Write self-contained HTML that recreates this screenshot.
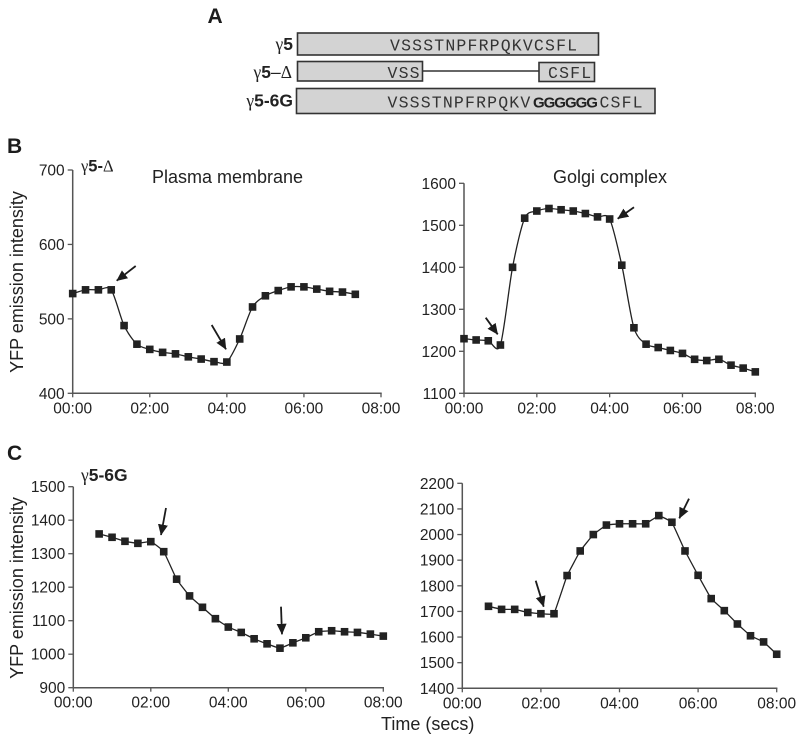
<!DOCTYPE html>
<html lang="en">
<head>
<meta charset="utf-8">
<title>YFP emission intensity over time</title>
<style>
html,body{margin:0;padding:0;background:#fff}
svg{display:block;font-family:"Liberation Sans",sans-serif}
.letter{font-size:21px;font-weight:bold;fill:#1c1c1c}
.box{fill:#d3d3d3;stroke:#333;stroke-width:1.6}
.seq{font-family:"Liberation Mono",monospace;font-size:16.5px;letter-spacing:1.17px;fill:#333}
.seq tspan.g{font-family:"Liberation Sans",sans-serif;font-weight:bold;font-size:15px;fill:#222;letter-spacing:-1px}
.rowlabel{font-size:17.5px;font-weight:bold;fill:#222;text-anchor:end}
.gamma{font-family:"Liberation Serif",serif;font-weight:normal}
.tick{font-size:15.5px;fill:#222}
.title{font-size:18px;fill:#222}
.ytitle{font-size:18px;fill:#222;text-anchor:middle}
.arrow{stroke:#1c1c1c;stroke-width:1.8;fill:none;marker-end:url(#arrowhead)}
</style>
</head>
<body>
<svg id="figure" xmlns="http://www.w3.org/2000/svg" width="800" height="740" viewBox="0 0 800 740">
<defs>
<marker id="arrowhead" markerUnits="userSpaceOnUse" markerWidth="12" markerHeight="12" refX="10.5" refY="5" orient="auto">
<path d="M0,0 L11,5 L0,10 Z" fill="#1c1c1c"></path>
</marker>
</defs>
<rect width="800" height="740" fill="#fff"></rect>

<text class="letter" x="207.5" y="23">A</text>
<text class="letter" x="7" y="153">B</text>
<text class="letter" x="7" y="460">C</text>

<g>
<text class="rowlabel" x="293" y="50"><tspan class="gamma">γ</tspan>5</text>
<rect class="box" x="297.5" y="33" width="301" height="22"></rect>
<text class="seq" x="390" y="50.5">VSSSTNPFRPQKVCSFL</text>

<text class="rowlabel" x="292" y="78"><tspan class="gamma">γ</tspan>5<tspan font-weight="normal">–</tspan><tspan class="gamma">Δ</tspan></text>
<line x1="422" y1="71" x2="539" y2="71" stroke="#333" stroke-width="1.6"></line>
<rect class="box" x="297.5" y="61.5" width="125" height="19.5"></rect>
<rect class="box" x="539" y="62.5" width="55.5" height="19"></rect>
<text class="seq" x="387.5" y="78">VSS</text>
<text class="seq" x="548" y="78">CSFL</text>

<text class="rowlabel" x="293" y="106.5"><tspan class="gamma">γ</tspan>5-6G</text>
<rect class="box" x="296.5" y="88.5" width="358.5" height="25"></rect>
<text class="seq" x="387.5" y="107.5">VSSSTNPFRPQKV<tspan class="g" dx="1.5">GGGGGG</tspan><tspan dx="2.5">CSFL</tspan></text>
</g>

<text class="title" x="152" y="183">Plasma membrane</text>
<text class="title" x="553" y="183">Golgi complex</text>
<text x="81" y="171.5" font-size="16.5" font-weight="bold" fill="#222"><tspan class="gamma">γ</tspan>5-<tspan class="gamma">Δ</tspan></text>
<text x="81" y="481" font-size="17.5" font-weight="bold" fill="#222"><tspan class="gamma">γ</tspan>5-6G</text>
<text class="ytitle" transform="translate(23,282) rotate(-90)">YFP emission intensity</text>
<text class="ytitle" transform="translate(23,588) rotate(-90)">YFP emission intensity</text>
<text class="title" x="381" y="730">Time (secs)</text>

<g id="charts"></g>

<g>
<line class="arrow" x1="135.7" y1="266" x2="116.7" y2="280.7"></line>
<line class="arrow" x1="211.7" y1="325" x2="226" y2="349.3"></line>
<line class="arrow" x1="485.7" y1="317.7" x2="497.7" y2="334.3"></line>
<line class="arrow" x1="634" y1="207.3" x2="617.7" y2="218.7"></line>
<line class="arrow" x1="166" y1="508" x2="161" y2="535"></line>
<line class="arrow" x1="281" y1="606.7" x2="282" y2="634.3"></line>
<line class="arrow" x1="535.7" y1="580.7" x2="543.7" y2="606.7"></line>
<line class="arrow" x1="689" y1="498.7" x2="679.3" y2="518.3"></line>
</g>
</svg>
<script>
var xTickLabels = ["00:00", "02:00", "04:00", "06:00", "08:00"];
var xTickSeconds = [0, 120, 240, 360, 480];

var plasmaDeltaTimes = [0, 20, 40, 60, 80, 100, 120, 140, 160, 180, 200, 220, 240, 260, 280, 300, 320, 340, 360, 380, 400, 420, 440];
var plasmaDeltaValues = [534, 539, 539, 539, 491, 466, 459, 455, 453, 449, 446, 442.5, 442, 473, 516, 531, 538, 543, 543, 540, 537, 536, 533];
var plasmaDeltaTicks = [400, 500, 600, 700];

var golgiDeltaTimes = [0, 20, 40, 60, 80, 100, 120, 140, 160, 180, 200, 220, 240, 260, 280, 300, 320, 340, 360, 380, 400, 420, 440, 460, 480];
var golgiDeltaValues = [1230, 1227, 1225, 1215, 1400, 1517, 1534, 1540, 1537, 1534, 1528, 1520, 1515, 1405, 1256, 1217, 1209, 1202, 1195, 1181, 1178, 1181, 1167, 1160, 1151];
var golgiDeltaTicks = [1100, 1200, 1300, 1400, 1500, 1600];

var plasma6gTimes = [40, 60, 80, 100, 120, 140, 160, 180, 200, 220, 240, 260, 280, 300, 320, 340, 360, 380, 400, 420, 440, 460, 480];
var plasma6gValues = [1359, 1349, 1337, 1331, 1336, 1306, 1224, 1174, 1140, 1106, 1081, 1065, 1046, 1031, 1018, 1034, 1049, 1067, 1070, 1067, 1065, 1060, 1054];
var plasma6gTicks = [900, 1000, 1100, 1200, 1300, 1400, 1500];

var golgi6gTimes = [40, 60, 80, 100, 120, 140, 160, 180, 200, 220, 240, 260, 280, 300, 320, 340, 360, 380, 400, 420, 440, 460, 480];
var golgi6gValues = [1720, 1708, 1708, 1696, 1691, 1691, 1840, 1936, 2000, 2037, 2042, 2042, 2042, 2074, 2048, 1936, 1841, 1750, 1703, 1651, 1605, 1581, 1533];
var golgi6gTicks = [1400, 1500, 1600, 1700, 1800, 1900, 2000, 2100, 2200];

var NS = "http://www.w3.org/2000/svg";
var chartsRoot = document.getElementById("charts");

function svgEl(tag, parent) {
  var el = document.createElementNS(NS, tag);
  parent.appendChild(el);
  return el;
}

function linePath(points, smooth) {
  var d = "M" + points[0][0].toFixed(2) + "," + points[0][1].toFixed(2);
  for (var i = 0; i < points.length - 1; i++) {
    var p0 = points[Math.max(i - 1, 0)];
    var p1 = points[i];
    var p2 = points[i + 1];
    var p3 = points[Math.min(i + 2, points.length - 1)];
    var c1x = p1[0] + (p2[0] - p0[0]) * smooth;
    var c1y = p1[1] + (p2[1] - p0[1]) * smooth;
    var c2x = p2[0] - (p3[0] - p1[0]) * smooth;
    var c2y = p2[1] - (p3[1] - p1[1]) * smooth;
    d += " C" + c1x.toFixed(2) + "," + c1y.toFixed(2) + " " + c2x.toFixed(2) + "," + c2y.toFixed(2) + " " + p2[0].toFixed(2) + "," + p2[1].toFixed(2);
  }
  return d;
}

function drawChart(id, left, right, top, bottom, times, values, yTicks, smooth) {
  var yMin = yTicks[0];
  var yMax = yTicks[yTicks.length - 1];
  var xMax = xTickSeconds[xTickSeconds.length - 1];
  function xScale(t) { return left + (t / xMax) * (right - left); }
  function yScale(v) { return bottom - ((v - yMin) / (yMax - yMin)) * (bottom - top); }

  var g = svgEl("g", chartsRoot);
  
  

  var yAxis = svgEl("line", g);
  
  
  yAxis.setAttribute("x1", left); yAxis.setAttribute("x2", left);
  yAxis.setAttribute("y1", top); yAxis.setAttribute("y2", bottom);
  yAxis.setAttribute("stroke", "#555"); yAxis.setAttribute("stroke-width", "1.5");

  var xAxis = svgEl("line", g);
  
  
  xAxis.setAttribute("x1", left - 0.7); xAxis.setAttribute("x2", right + 0.7);
  xAxis.setAttribute("y1", bottom); xAxis.setAttribute("y2", bottom);
  xAxis.setAttribute("stroke", "#555"); xAxis.setAttribute("stroke-width", "1.5");

  yTicks.forEach(function (v) {
    var tick = svgEl("line", g);
    
    
    tick.setAttribute("x1", left - 5); tick.setAttribute("x2", left);
    tick.setAttribute("y1", yScale(v)); tick.setAttribute("y2", yScale(v));
    tick.setAttribute("stroke", "#555"); tick.setAttribute("stroke-width", "1.3");
    var label = svgEl("text", g);
    
    
    label.setAttribute("class", "tick");
    label.setAttribute("x", left - 8);
    label.setAttribute("y", yScale(v) + 5.5);
    label.setAttribute("text-anchor", "end");
    label.textContent = String(v);
  });

  xTickSeconds.forEach(function (t, i) {
    var tick = svgEl("line", g);
    
    
    tick.setAttribute("x1", xScale(t)); tick.setAttribute("x2", xScale(t));
    tick.setAttribute("y1", bottom); tick.setAttribute("y2", bottom + 4);
    tick.setAttribute("stroke", "#555"); tick.setAttribute("stroke-width", "1.3");
    var label = svgEl("text", g);
    
    
    label.setAttribute("class", "tick");
    label.setAttribute("x", xScale(t));
    label.setAttribute("y", bottom + 20);
    label.setAttribute("text-anchor", "middle");
    label.textContent = xTickLabels[i];
  });

  var points = times.map(function (t, i) { return [xScale(t), yScale(values[i])]; });
  var path = svgEl("path", g);
  
  
  path.setAttribute("d", linePath(points, smooth));
  path.setAttribute("fill", "none");
  path.setAttribute("stroke", "#222");
  path.setAttribute("stroke-width", "1.3");

  points.forEach(function (p) {
    var marker = svgEl("rect", g);
    
    
    marker.setAttribute("x", p[0] - 3.8);
    marker.setAttribute("y", p[1] - 3.8);
    marker.setAttribute("width", 7.6);
    marker.setAttribute("height", 7.6);
    marker.setAttribute("fill", "#222");
  });
}

drawChart("plasma-delta", 72.7, 381, 170, 393.3, plasmaDeltaTimes, plasmaDeltaValues, plasmaDeltaTicks, 0.14);
drawChart("golgi-delta", 464, 755.3, 183.3, 393.3, golgiDeltaTimes, golgiDeltaValues, golgiDeltaTicks, 0.14);
drawChart("plasma-6g", 73.3, 383.3, 486.7, 687.7, plasma6gTimes, plasma6gValues, plasma6gTicks, 0.06);
drawChart("golgi-6g", 462.3, 776.7, 483.3, 688.3, golgi6gTimes, golgi6gValues, golgi6gTicks, 0.03);
</script>
</body>
</html>
